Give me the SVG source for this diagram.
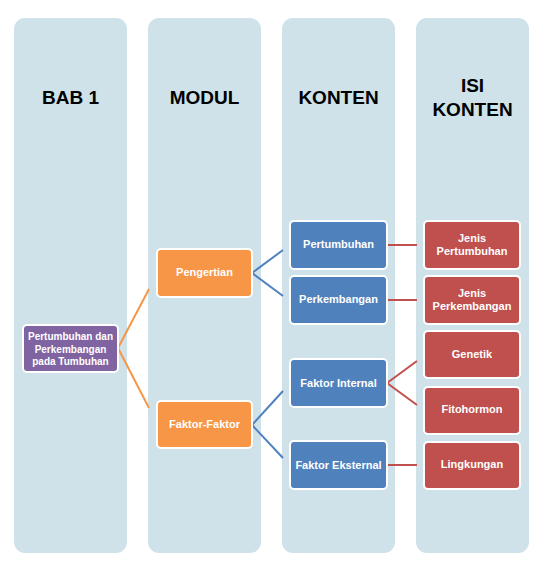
<svg xmlns="http://www.w3.org/2000/svg" width="554" height="564" viewBox="0 0 554 564">
<style>
.col{fill:#CFE2EA}
.hdr{font-family:"Liberation Sans",Arial,sans-serif;font-weight:bold;font-size:19px;fill:#000;text-anchor:middle}
.nt{font-family:"Liberation Sans",Arial,sans-serif;font-weight:bold;font-size:11px;fill:#fff;text-anchor:middle}
.sm{font-size:10px}
.box{stroke:#fff;stroke-width:2}
.purple{fill:#8064A2}
.orange{fill:#F79646}
.blue{fill:#4F81BD}
.red{fill:#C0504D}
.lo{stroke:#F79646;stroke-width:2;fill:none}
.lb{stroke:#4F81BD;stroke-width:2;fill:none}
.lr{stroke:#C0504D;stroke-width:2;fill:none}
</style>
<rect width="554" height="564" fill="#fff"/>
<g id="columns">
<rect class="col" x="14" y="18" width="113" height="535" rx="11"/>
<rect class="col" x="148" y="18" width="113" height="535" rx="11"/>
<rect class="col" x="282" y="18" width="113" height="535" rx="11"/>
<rect class="col" x="416" y="18" width="113" height="535" rx="11"/>
</g>
<g id="headers">
<text class="hdr" x="70.5" y="104">BAB 1</text>
<text class="hdr" x="204.5" y="104">MODUL</text>
<text class="hdr" x="338.5" y="104">KONTEN</text>
<text class="hdr" x="472.5" y="92">ISI</text>
<text class="hdr" x="472.5" y="116">KONTEN</text>
</g>
<g id="connectors">
<line class="lo" x1="118" y1="348" x2="149" y2="289"/>
<line class="lo" x1="118" y1="348" x2="149" y2="408"/>
<line class="lb" x1="252" y1="273" x2="283" y2="250"/>
<line class="lb" x1="252" y1="273" x2="283" y2="296"/>
<line class="lb" x1="252" y1="425" x2="283" y2="391"/>
<line class="lb" x1="252" y1="425" x2="283" y2="458"/>
<line class="lr" x1="387" y1="245" x2="417" y2="245"/>
<line class="lr" x1="387" y1="300" x2="417" y2="300"/>
<line class="lr" x1="387" y1="383" x2="417" y2="361"/>
<line class="lr" x1="387" y1="383" x2="417" y2="405"/>
<line class="lr" x1="387" y1="465" x2="417" y2="465"/>
</g>
<g id="n-bab1">
<rect class="box purple" x="23" y="325" width="95" height="47" rx="4"/>
<text class="nt sm" x="70.5" y="340">Pertumbuhan dan</text>
<text class="nt sm" x="70.5" y="352.5">Perkembangan</text>
<text class="nt sm" x="70.5" y="365">pada Tumbuhan</text>
</g>
<g id="n-pengertian">
<rect class="box orange" x="157" y="249" width="95" height="48" rx="4"/>
<text class="nt" x="204.5" y="276">Pengertian</text>
</g>
<g id="n-faktor">
<rect class="box orange" x="157" y="401" width="95" height="47" rx="4"/>
<text class="nt" x="204.5" y="428">Faktor-Faktor</text>
</g>
<g id="n-pertumbuhan">
<rect class="box blue" x="290" y="221" width="97" height="48" rx="4"/>
<text class="nt" x="338.5" y="248">Pertumbuhan</text>
</g>
<g id="n-perkembangan">
<rect class="box blue" x="290" y="276" width="97" height="48" rx="4"/>
<text class="nt" x="338.5" y="303">Perkembangan</text>
</g>
<g id="n-internal">
<rect class="box blue" x="290" y="359" width="97" height="48" rx="4"/>
<text class="nt" x="338.5" y="387">Faktor Internal</text>
</g>
<g id="n-eksternal">
<rect class="box blue" x="290" y="441" width="97" height="48" rx="4"/>
<text class="nt" x="338.5" y="469">Faktor Eksternal</text>
</g>
<g id="n-jenis-pertumbuhan">
<rect class="box red" x="424" y="221" width="96" height="48" rx="4"/>
<text class="nt" x="472" y="242">Jenis</text>
<text class="nt" x="472" y="255">Pertumbuhan</text>
</g>
<g id="n-jenis-perkembangan">
<rect class="box red" x="424" y="276" width="96" height="48" rx="4"/>
<text class="nt" x="472" y="297">Jenis</text>
<text class="nt" x="472" y="310">Perkembangan</text>
</g>
<g id="n-genetik">
<rect class="box red" x="424" y="331" width="96" height="47" rx="4"/>
<text class="nt" x="472" y="358">Genetik</text>
</g>
<g id="n-fitohormon">
<rect class="box red" x="424" y="387" width="96" height="47" rx="4"/>
<text class="nt" x="472" y="413">Fitohormon</text>
</g>
<g id="n-lingkungan">
<rect class="box red" x="424" y="442" width="96" height="47" rx="4"/>
<text class="nt" x="472" y="468">Lingkungan</text>
</g>
</svg>
